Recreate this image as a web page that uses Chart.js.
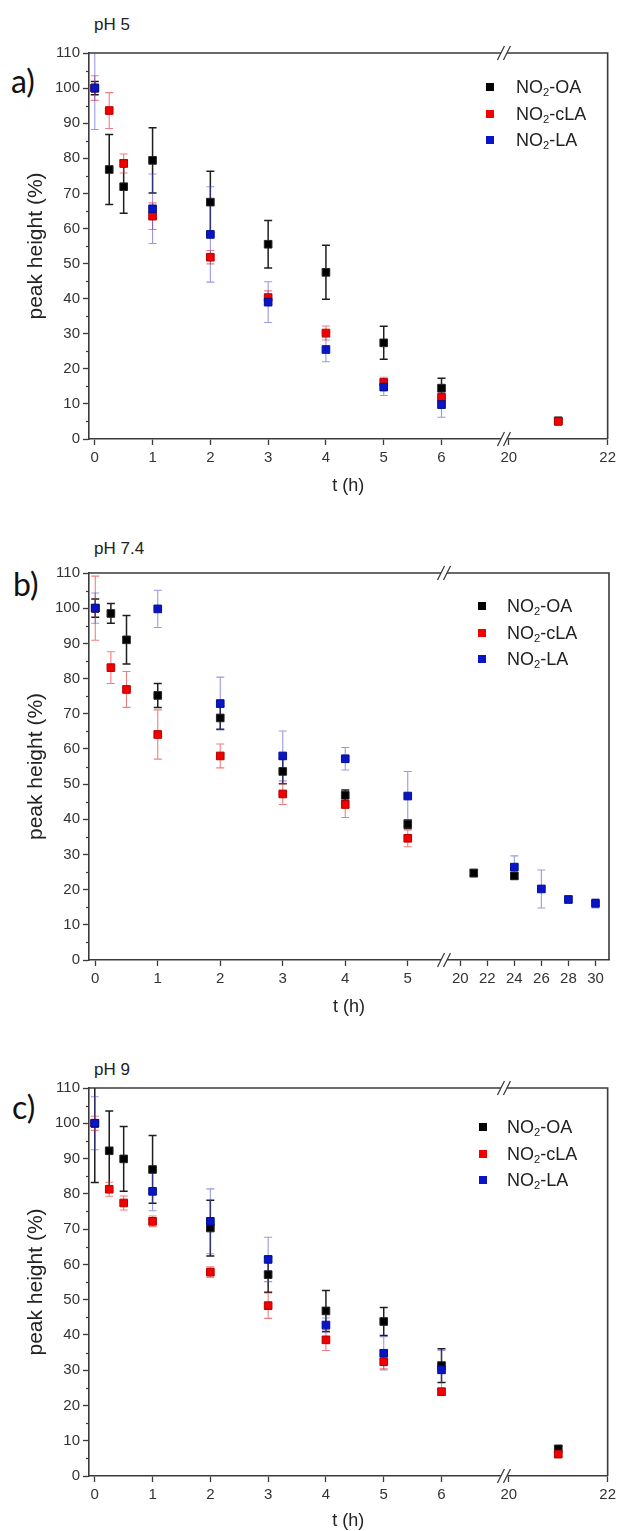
<!DOCTYPE html>
<html>
<head>
<meta charset="utf-8">
<script src="https://cdn.jsdelivr.net/npm/chart.js@4.4.1/dist/chart.umd.min.js"></script>
<style>
  body { margin: 0; width: 620px; height: 1531px; position: relative; background: #fff; overflow: hidden;
         font-family: "Liberation Sans", Arial, sans-serif; color: #222; }
  canvas { position: absolute; left: 0; }
  .tag { position: absolute; font-family: Lato, sans-serif; font-size: 32px; line-height: 1; color: #111; }
  .ph { position: absolute; left: 94px; font-size: 17px; line-height: 1; }
  .legend { position: absolute; font-size: 18px; line-height: 1; }
  .legend .row { position: absolute; left: 0; white-space: nowrap; }
  .legend .box { position: absolute; width: 8px; height: 8px; }
  .legend .txt { position: absolute; }
  .legend sub { font-size: 0.62em; vertical-align: -0.3em; }
</style>
</head>
<body>
<div class="tag" style="left:11px;top:65px">a)</div>
<div class="ph" style="top:16px">pH 5</div>
<canvas id="chartA" width="620" height="500" style="top:0"></canvas>

<div class="tag" style="left:13px;top:568px">b)</div>
<div class="ph" style="top:540px">pH 7.4</div>
<canvas id="chartB" width="620" height="500" style="top:520px"></canvas>

<div class="tag" style="left:12px;top:1091px">c)</div>
<div class="ph" style="top:1061px">pH 9</div>
<canvas id="chartC" width="620" height="496" style="top:1035px"></canvas>

<script>
// series shared by all three panels
const seriesNames = ["NO₂-OA", "NO₂-cLA", "NO₂-LA"];
const seriesFill = ["#000000", "#f20000", "#0a14c8"];
const seriesEdge = ["#262626", "#b30000", "#001290"];
const barColors = ["#1e1e1e", "rgba(232, 40, 40, 0.6)", "rgba(70, 70, 205, 0.55)"];

// pH 5
const timesA = [0, 0.25, 0.5, 1, 2, 3, 4, 5, 6, 21];
const oaA = [100, 76.8, 71.9, 79.4, 67.5, 55.5, 47.5, 27.4, 14.5, 5.2];
const oaErrA = [1.9, 10, 7.6, 9.3, 8.8, 6.8, 7.7, 4.7, 2.8, 0.5];
const claA = [100, 93.6, 78.5, 63.5, 51.8, 40.3, 30.2, 16.1, 11.9, 5.0];
const claErrA = [3.5, 5.1, 2.7, 3.8, 1.9, 1.9, 2.0, 1.5, 1.5, 0.8];
const laA = [100, null, null, 65.6, 58.3, 39.0, 25.5, 14.8, 9.8, null];
const laErrA = [11.8, null, null, 9.9, 13.6, 5.8, 3.5, 2.4, 3.6, null];
const xTicksA = [0, 1, 2, 3, 4, 5, 6, 20, 22];

// pH 7.4
const timesB = [0, 0.25, 0.5, 1, 2, 3, 4, 5, 21, 24, 26, 28, 30];
const oaB = [100, 98.5, 91.0, 75.2, 68.8, 53.6, 46.8, 38.6, 24.7, 23.9, null, null, null];
const oaErrB = [2.6, 2.8, 6.9, 3.4, 3.2, 3.5, 1.5, 1.2, 1.0, 0.8, null, null, null];
const claB = [100, 83.1, 76.9, 64.1, 58.0, 47.2, 44.2, 34.6, null, null, null, null, null];
const claErrB = [9.1, 4.5, 5.1, 7.0, 3.4, 3.0, 3.7, 2.4, null, null, null, null, null];
const laB = [100, null, null, 99.8, 72.9, 58.0, 57.2, 46.6, null, 26.4, 20.2, 17.2, 16.1];
const laErrB = [4.3, null, null, 5.3, 7.5, 7.1, 3.2, 7.0, null, 3.2, 5.4, 1.0, 1.3];
const xTicksB = [0, 1, 2, 3, 4, 5, 20, 22, 24, 26, 28, 30];

// pH 9
const timesC = [0, 0.25, 0.5, 1, 2, 3, 4, 5, 6, 21];
const oaC = [100, 92.2, 89.9, 86.9, 70.3, 57.1, 46.8, 43.8, 31.3, 7.7];
const oaErrC = [16.8, 11.3, 9.2, 9.6, 7.9, 5.0, 5.8, 4.0, 4.8, 0.8];
const claC = [100, 81.3, 77.4, 72.2, 57.8, 48.3, 38.6, 32.4, 23.9, 6.2];
const claErrC = [2.0, 2.0, 2.0, 1.5, 1.5, 3.6, 3.0, 2.0, 1.0, 0.8];
const laC = [100, null, null, 80.7, 72.2, 61.4, 42.8, 34.8, 30.1, null];
const laErrC = [7.5, null, null, 5.5, 9.2, 6.3, 2.0, 4.7, 5.5, null];
const xTicksC = [0, 1, 2, 3, 4, 5, 6, 20, 22];

const yTicks = [0, 10, 20, 30, 40, 50, 60, 70, 80, 90, 100, 110];

const FONT = "'Liberation Sans', Arial, sans-serif";
const FRAME = "#3a3a3a";

// linear axis split into pieces, each piece gets its own share of the width
class BrokenAxis extends Chart.LinearScale {
  static id = "broken";
  static defaults = Chart.LinearScale.defaults;

  buildTicks() {
    const segs = this.options.segments;
    this.min = segs[0].min;
    this.max = segs[segs.length - 1].max;
    return this.options.tickValues.map((value) => ({ value }));
  }

  getPixelForValue(value) {
    const segs = this.options.segments;
    const total = segs.reduce((sum, seg) => sum + seg.size, 0);
    let start = 0;
    for (let i = 0; i < segs.length; i++) {
      const seg = segs[i];
      if (value <= seg.max || i === segs.length - 1) {
        const frac = start + ((value - seg.min) / (seg.max - seg.min)) * seg.size;
        return this.getPixelForDecimal(frac / total);
      }
      start += seg.size;
    }
    return this.getPixelForDecimal(1);
  }

  getValueForPixel(pixel) {
    const segs = this.options.segments;
    const total = segs.reduce((sum, seg) => sum + seg.size, 0);
    let pos = this.getDecimalForPixel(pixel) * total;
    for (const seg of segs) {
      if (pos <= seg.size) return seg.min + (pos / seg.size) * (seg.max - seg.min);
      pos -= seg.size;
    }
    return this.max;
  }
}
Chart.register(BrokenAxis);

const errorBars = {
  id: "errorBars",
  beforeDatasetsDraw(chart) {
    const { ctx, chartArea, scales } = chart;
    ctx.save();
    ctx.beginPath();
    ctx.rect(chartArea.left, chartArea.top, chartArea.width, chartArea.height);
    ctx.clip();
    for (const ds of chart.data.datasets) {
      ctx.strokeStyle = ds.barColor;
      ctx.lineWidth = ds.barWidth;
      for (const p of ds.data) {
        if (!p.err) continue;
        const px = scales.x.getPixelForValue(p.x);
        const top = scales.y.getPixelForValue(p.y + p.err);
        const bottom = scales.y.getPixelForValue(p.y - p.err);
        ctx.beginPath();
        ctx.moveTo(px, top);
        ctx.lineTo(px, bottom);
        ctx.moveTo(px - 4, top);
        ctx.lineTo(px + 4, top);
        ctx.moveTo(px - 4, bottom);
        ctx.lineTo(px + 4, bottom);
        ctx.stroke();
      }
    }
    ctx.restore();
  },
};

// top/right frame, short minor ticks on y, and the // marks where the time axis is cut
const frameAndBreaks = {
  id: "frameAndBreaks",
  afterDraw(chart) {
    const { ctx, chartArea: area, scales } = chart;
    ctx.save();
    ctx.strokeStyle = FRAME;
    ctx.lineWidth = 1.6;
    ctx.beginPath();
    ctx.moveTo(area.left, area.top);
    ctx.lineTo(area.right, area.top);
    ctx.lineTo(area.right, area.bottom);
    ctx.stroke();

    ctx.lineWidth = 1.2;
    for (let v = 5; v < 110; v += 10) {
      const py = Math.round(scales.y.getPixelForValue(v)) + 0.5;
      ctx.beginPath();
      ctx.moveTo(area.left - 3, py);
      ctx.lineTo(area.left, py);
      ctx.stroke();
    }

    const segs = scales.x.options.segments;
    const bx = scales.x.getPixelForValue(segs[0].max);
    for (const by of [area.top, area.bottom]) {
      ctx.fillStyle = "#fff";
      ctx.fillRect(bx - 3, by - 2, 6, 4);
      ctx.lineWidth = 1.3;
      for (const dx of [-3, 3]) {
        ctx.beginPath();
        ctx.moveTo(bx + dx - 3.5, by + 7);
        ctx.lineTo(bx + dx + 3.5, by - 7);
        ctx.stroke();
      }
    }
    ctx.restore();
  },
};

function buildSeries(times, values, errors) {
  const points = [];
  times.forEach((t, i) => {
    if (values[i] !== null) points.push({ x: t, y: values[i], err: errors[i] });
  });
  return points;
}

function renderPanel(canvasId, times, seriesValues, seriesErrors, xTicks, segments, xHeight) {
  const datasets = seriesNames.map((name, i) => ({
    label: name,
    data: buildSeries(times, seriesValues[i], seriesErrors[i]),
    pointStyle: "rect",
    pointRadius: 5.4,
    pointBorderWidth: 1,
    backgroundColor: seriesFill[i],
    borderColor: seriesEdge[i],
    barColor: barColors[i],
    barWidth: i === 0 ? 1.5 : 1.1,
    order: seriesNames.length - 1 - i,
  }));

  new Chart(document.getElementById(canvasId), {
    type: "scatter",
    data: { datasets },
    options: {
      responsive: false,
      animation: false,
      events: [],
      layout: { padding: { top: 53, right: 11, bottom: 0, left: 0 } },
      plugins: { legend: { display: false }, tooltip: { enabled: false } },
      scales: {
        x: {
          type: "broken",
          position: "bottom",
          segments,
          tickValues: xTicks,
          min: segments[0].min,
          max: segments[segments.length - 1].max,
          afterFit: (scale) => { scale.height = xHeight; },
          grid: { display: true, drawOnChartArea: false, drawTicks: true, tickLength: 6, tickWidth: 1.3, tickColor: FRAME },
          border: { display: true, color: FRAME, width: 1.6 },
          ticks: { autoSkip: false, maxRotation: 0, padding: 4, color: "#333", font: { family: FONT, size: 15 }, callback: (v) => String(v) },
          title: { display: true, text: "t (h)", color: "#222", font: { family: FONT, size: 18, lineHeight: 1.1 },
                   padding: { top: 0, bottom: Math.max(0, xHeight - 57) } },
        },
        y: {
          min: 0,
          max: 110,
          afterFit: (scale) => { scale.width = 89; },
          grid: { display: true, drawOnChartArea: false, drawTicks: true, tickLength: 6, tickWidth: 1.3,
                  tickColor: (ctx) => (ctx.tick && ctx.tick.value % 10 === 0 ? FRAME : "transparent") },
          border: { display: true, color: FRAME, width: 1.6 },
          ticks: { stepSize: 5, autoSkip: false, padding: 3, color: "#333", font: { family: FONT, size: 15 },
                   callback: (v) => (yTicks.includes(v) ? String(v) : "") },
          title: { display: true, text: "peak height (%)", color: "#222", font: { family: FONT, size: 21, lineHeight: 1.1 },
                   padding: { top: 25, bottom: 0 } },
        },
      },
    },
    plugins: [errorBars, frameAndBreaks],
  });
}

function renderLegend(left, top, textOffset) {
  const box = document.createElement("div");
  box.className = "legend";
  box.style.left = left + "px";
  box.style.top = top + "px";
  seriesNames.forEach((name, i) => {
    const row = document.createElement("div");
    row.className = "row";
    row.style.top = i * 26.5 + "px";
    row.innerHTML =
      `<span class="box" style="left:-4px;top:-4px;background:${seriesFill[i]}"></span>` +
      `<span class="txt" style="left:${textOffset}px;top:-9px">${name.replace("₂", "<sub>2</sub>")}</span>`;
    box.appendChild(row);
  });
  document.body.appendChild(box);
}

renderPanel("chartA", timesA, [oaA, claA, laA], [oaErrA, claErrA, laErrA], xTicksA,
  [{ min: -0.1, max: 7.08, size: 416 }, { min: 19.9, max: 22, size: 104 }], 61);
renderPanel("chartB", timesB, [oaB, claB, laB], [oaErrB, claErrB, laErrB], xTicksB,
  [{ min: -0.1, max: 5.58, size: 355 }, { min: 18.8, max: 31.0, size: 165 }], 60);
renderPanel("chartC", timesC, [oaC, claC, laC], [oaErrC, claErrC, laErrC], xTicksC,
  [{ min: -0.1, max: 7.08, size: 416 }, { min: 19.9, max: 22, size: 104 }], 55);

renderLegend(490, 87, 26);
renderLegend(482, 606, 25);
renderLegend(483, 1127, 24);
</script>
</body>
</html>
